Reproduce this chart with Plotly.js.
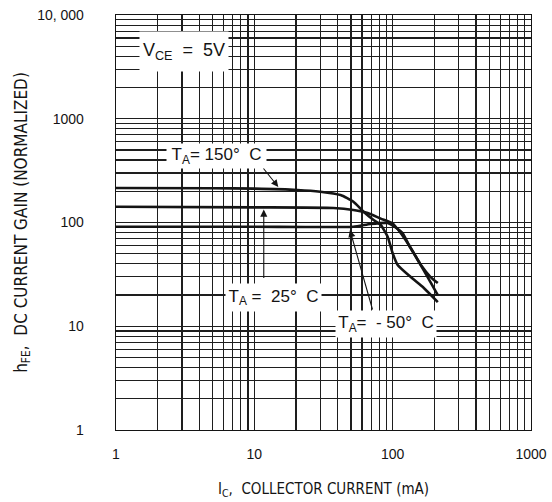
<!DOCTYPE html>
<html>
<head>
<meta charset="utf-8">
<script src="https://cdn.plot.ly/plotly-3.0.1.min.js"></script>
<style>html,body{margin:0;padding:0;background:#fff;}#chart{width:552px;height:502px;}</style>
</head>
<body>
<div id="chart"></div>
<script>
// Collector current (mA) and normalized DC current gain
const ic150  = [1, 5, 10, 20.5, 30, 42, 52, 61.6, 72.8, 82, 92, 100, 108.7, 135, 168, 212];
const hfe150 = [215, 214, 212, 206, 198, 184, 158.6, 127, 105.7, 94.6, 73, 50.5, 38.9, 29.8, 23.4, 17.1];

const ic25  = [1, 10, 37.3, 52, 66, 82, 100, 110, 124, 142, 160, 188, 212];
const hfe25 = [142, 140, 138, 132, 123.5, 109, 97.8, 84.7, 67.8, 50.8, 38.9, 29.8, 26.1];

const icm50  = [1, 10, 52, 69, 92, 105, 118, 131, 152, 179, 212];
const hfem50 = [91, 91, 91, 96.8, 98.8, 89.5, 79.2, 60.7, 43.5, 29.8, 20.0];

const seriesNames = ["T<sub>A</sub>= 150°  C", "T<sub>A</sub> =  25°  C", "T<sub>A</sub>=  - 50°  C"];

const xTickVals = [1, 10, 100, 1000];
const xTickText = ["1", "10", "100", "1000"];
const yTickVals = [1, 10, 100, 1000, 10000];
const yTickText = ["1", "10", "100", "1000", "10, 000"];

function minorVals(decades) {
  const v = [];
  decades.forEach(d => { for (let k = 2; k <= 9; k++) v.push(k * d); });
  return v;
}
const xMinor = minorVals([1, 10, 100]);
const yMinor = minorVals([1, 10, 100, 1000]);

const ink = "#141414";
const font = "Liberation Sans, Arial, sans-serif";
const narrow = "Liberation Sans Narrow, DejaVu Sans Condensed, Arial Narrow, sans-serif";

const lineStyle = {color: ink, width: 2.6, shape: "spline", smoothing: 0.5};
const traces = [
  {x: ic150, y: hfe150, name: seriesNames[0], mode: "lines", line: lineStyle, hoverinfo: "x+y"},
  {x: ic25,  y: hfe25,  name: seriesNames[1], mode: "lines", line: lineStyle, hoverinfo: "x+y"},
  {x: icm50, y: hfem50, name: seriesNames[2], mode: "lines", line: lineStyle, hoverinfo: "x+y"}
];

const gridCol = "#1e1e1e";
const boxLabel = (x, y, text, w, h, size) => ({
  xref: "paper", yref: "paper", x: x, y: y, xanchor: "center", yanchor: "middle",
  text: text, showarrow: false, bgcolor: "#fff", width: w, height: h,
  font: {size: size, family: font, color: ink}
});
const arrow = (x, y, ax, ay) => ({
  x: Math.log10(x), y: Math.log10(y), text: "", showarrow: true, ax: ax, ay: ay,
  arrowhead: 2, arrowsize: 1.3, arrowwidth: 1.1, arrowcolor: ink
});

const layout = {
  width: 552, height: 502,
  margin: {l: 116, r: 21, t: 15, b: 72},
  paper_bgcolor: "#fff", plot_bgcolor: "#fff",
  showlegend: false,
  font: {family: font, color: ink},
  xaxis: {
    type: "log", range: [0, 3],
    tickmode: "array", tickvals: xTickVals, ticktext: xTickText,
    tickfont: {size: 14, family: font, color: ink},
    ticks: "", ticklabelstandoff: 11,
    showgrid: true, gridcolor: gridCol, gridwidth: 1.1,
    minor: {tickmode: "array", tickvals: xMinor, showgrid: true, gridcolor: gridCol, gridwidth: 1.1, ticks: ""},
    showline: true, linecolor: ink, linewidth: 1.3, mirror: true,
    zeroline: false,
    title: {text: "I<sub>C</sub>,  COLLECTOR CURRENT (mA)", font: {size: 15, family: narrow, color: ink}, standoff: 22}
  },
  yaxis: {
    type: "log", range: [0, 4],
    tickmode: "array", tickvals: yTickVals, ticktext: yTickText,
    tickfont: {size: 14, family: font, color: ink},
    ticks: "", ticklabelstandoff: 28,
    showgrid: true, gridcolor: gridCol, gridwidth: 1.1,
    minor: {tickmode: "array", tickvals: yMinor, showgrid: true, gridcolor: gridCol, gridwidth: 1.1, ticks: ""},
    showline: true, linecolor: ink, linewidth: 1.3, mirror: true,
    zeroline: false,
    title: {text: "h<sub>FE</sub>,  DC CURRENT GAIN (NORMALIZED)", font: {size: 17, family: narrow, color: ink}, standoff: 5}
  },
  annotations: [
    boxLabel(0.1639, 0.912, "V<sub>CE</sub>  =  5V", 86, 37, 18),
    boxLabel(0.2422, 0.6602, seriesNames[0], 97, 22, 17),
    boxLabel(0.3795, 0.3193, seriesNames[1], 93, 25, 17),
    boxLabel(0.6506, 0.2554, seriesNames[2], 98, 24, 17),
    // arrows pointing at each curve
    arrow(14.9, 220, -16, -20),
    arrow(11.7, 133.5, 0, 70),
    arrow(49.1, 84.7, 23, 81)
  ]
};

Plotly.newPlot("chart", traces, layout, {displayModeBar: false, staticPlot: true});
</script>
</body>
</html>
